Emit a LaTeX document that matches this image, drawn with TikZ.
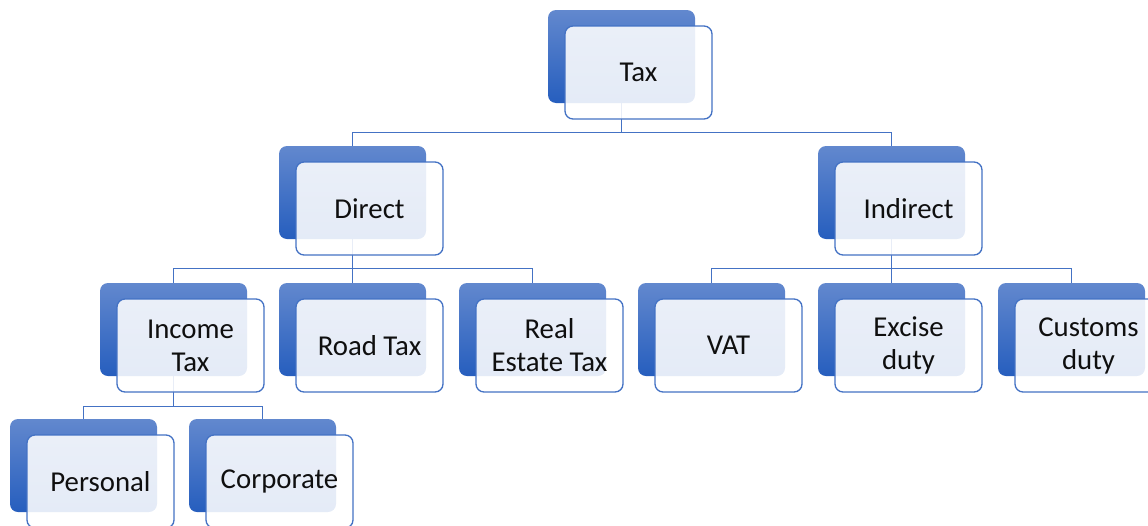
\documentclass[tikz,border=0pt]{standalone}
\usepackage{fontspec}
\setmainfont{Carlito}
\usetikzlibrary{positioning, calc}
\definecolor{tblue}{RGB}{68,114,196}
\definecolor{ttop}{RGB}{98,136,206}
\definecolor{tbot}{RGB}{38,94,190}
\definecolor{ttext}{RGB}{15,15,15}

\begin{document}
\begin{tikzpicture}[
  x=0.75pt, y=-0.75pt,
  back/.style={rectangle, rounded corners=6pt, top color=ttop, bottom color=tbot,
               draw=none, minimum width=110.25pt, minimum height=69.75pt},
  front/.style={rectangle, rounded corners=6pt, draw=tblue, line width=1pt,
                fill=white, fill opacity=0.88, text opacity=1, text=ttext,
                minimum width=110.25pt, minimum height=69.75pt,
                align=center, font=\fontsize{21.6}{24.75}\selectfont},
  link/.style={tblue, line width=1pt}
]
\useasboundingbox (0,0) rectangle (1148,525);

% ── back boxes ──────────────────────────────────────────
\node[back] (taxB)       at (621.5,56.5)  {};
\node[back] (directB)    at (352.5,192.5) {};
\node[back] (indirectB)  at (891.5,192.5) {};
\node[back] (incomeB)    at (173.5,329.5) {};
\node[back] (roadB)      at (352.5,329.5) {};
\node[back] (realB)      at (532.5,329.5) {};
\node[back] (vatB)       at (711.5,329.5) {};
\node[back] (exciseB)    at (891.5,329.5) {};
\node[back] (customsB)   at (1071.5,329.5) {};
\node[back] (personalB)  at (83.5,465.5)  {};
\node[back] (corporateB) at (262.5,465.5) {};

% ── connectors ──────────────────────────────────────────
\draw[link] (taxB.south) -- ++(0,29) -| (directB.north);
\draw[link] (taxB.south) -- ++(0,29) -| (indirectB.north);
\draw[link] (directB.south) -- ++(0,29) -| (incomeB.north);
\draw[link] (directB.south) -- (roadB.north);
\draw[link] (directB.south) -- ++(0,29) -| (realB.north);
\draw[link] (indirectB.south) -- ++(0,29) -| (vatB.north);
\draw[link] (indirectB.south) -- (exciseB.north);
\draw[link] (indirectB.south) -- ++(0,29) -| (customsB.north);
\draw[link] (incomeB.south) -- ++(0,30) -| (personalB.north);
\draw[link] (incomeB.south) -- ++(0,30) -| (corporateB.north);

% ── front boxes ─────────────────────────────────────────
\node[front] (tax)       at ($(taxB)+(17,16)$)       {Tax};
\node[front] (direct)    at ($(directB)+(17,16)$)    {Direct};
\node[front] (indirect)  at ($(indirectB)+(17,16)$)  {Indirect};
\node[front] (income)    at ($(incomeB)+(17,16)$)    {Income\\Tax};
\node[front] (road)      at ($(roadB)+(17,16)$)      {Road Tax};
\node[front] (real)      at ($(realB)+(17,16)$)      {Real\\Estate Tax};
\node[front] (vat)       at ($(vatB)+(17,16)$)       {VAT};
\node[front] (excise)    at ($(exciseB)+(17,16)$)    {Excise\\duty};
\node[front] (customs)   at ($(customsB)+(17,16)$)   {Customs\\duty};
\node[front] (personal)  at ($(personalB)+(17,16)$)  {Personal};
\node[front] (corporate) at ($(corporateB)+(17,16)$) {Corporate};

\end{tikzpicture}
\end{document}
